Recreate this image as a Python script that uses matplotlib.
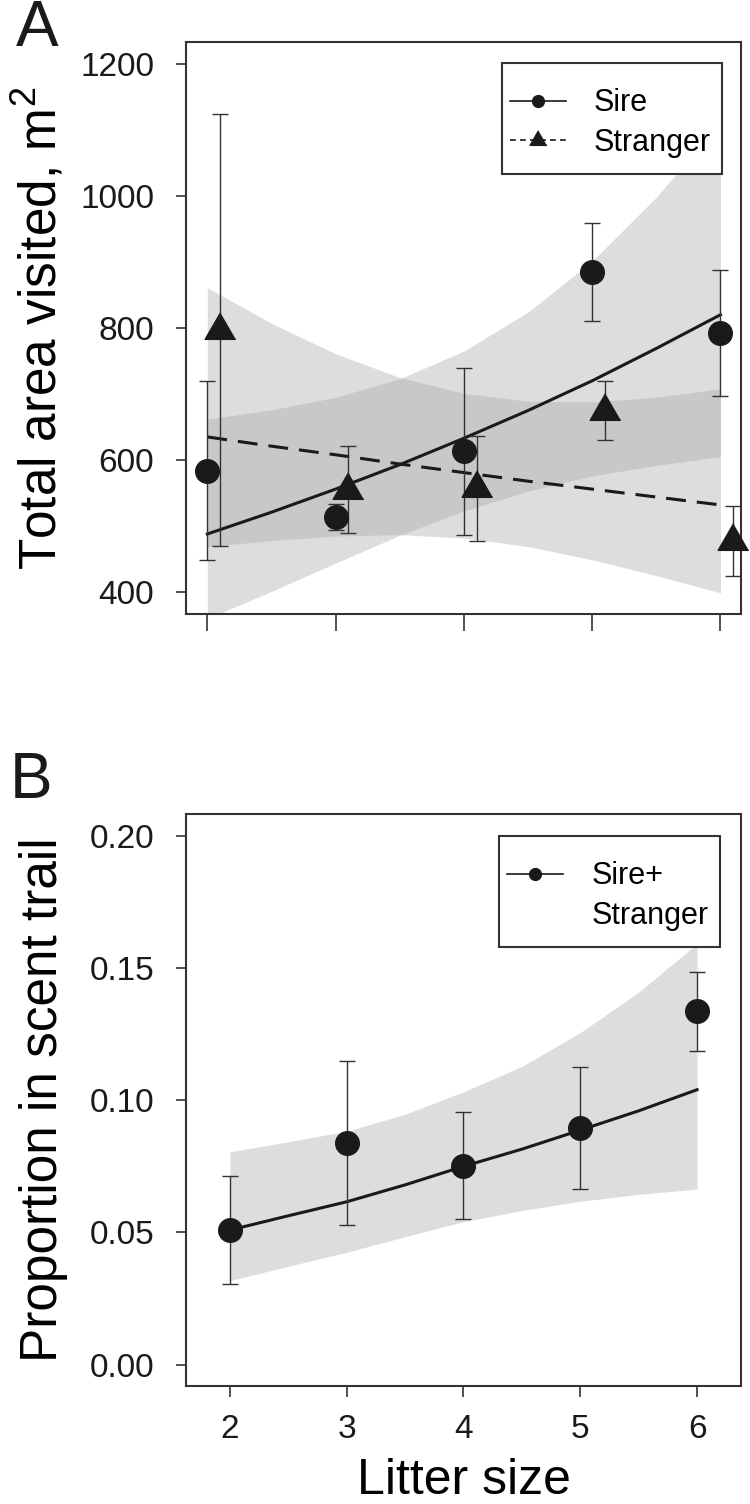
"""Litter size vs. total area visited (A) and proportion in scent trail (B)."""

import matplotlib
matplotlib.use("Agg")
import matplotlib.pyplot as plt
from matplotlib.lines import Line2D
from matplotlib.patches import Rectangle

plt.rcParams["font.family"] = ["Liberation Sans", "DejaVu Sans"]

# ---- data ---------------------------------------------------------------
litter_sizes = [2, 3, 4, 5, 6]

# panel A, means and SE bars
sire_area = [584, 514, 613, 885, 792]
sire_area_se = [135, 20, 127, 74, 95]
stranger_area = [797, 555, 557, 675, 478]
stranger_area_se = [327, 66, 80, 45, 53]

# panel A, model fits with confidence bands
fit_x = [2, 2.5, 3, 3.5, 4, 4.5, 5, 5.5, 6]
sire_fit = [488, 521, 556, 593, 633, 675, 720, 769, 820]
sire_fit_low = [360, 401, 444, 486, 523, 553, 576, 592, 605]
sire_fit_high = [662, 676, 695, 723, 765, 824, 901, 998, 1112]
stranger_fit = [635, 621, 608, 594, 581, 568, 556, 544, 532]
stranger_fit_low = [469, 478, 485, 487, 482, 469, 449, 425, 399]
stranger_fit_high = [861, 807, 761, 725, 701, 689, 688, 695, 708]

# panel B
scent_prop = [0.0509, 0.0840, 0.0752, 0.0895, 0.1337]
scent_prop_se = [0.0205, 0.0310, 0.0203, 0.0230, 0.0150]
scent_fit = [0.0509, 0.0563, 0.0616, 0.0680, 0.0750, 0.0815, 0.0887, 0.0960, 0.1040]
scent_fit_low = [0.0318, 0.0372, 0.0425, 0.0484, 0.0541, 0.0583, 0.0618, 0.0644, 0.0664]
scent_fit_high = [0.0805, 0.0843, 0.0883, 0.0947, 0.1032, 0.1128, 0.1256, 0.1409, 0.1592]

area_ticks = [400, 600, 800, 1000, 1200]
prop_ticks = [0.00, 0.05, 0.10, 0.15, 0.20]

# ---- style ---------------------------------------------------------------
ink = "#1a1a1a"
frame_color = "#333333"
band_color = "#a6a7aa"
band_alpha = 0.38
stranger_offset = 0.1
# equilateral triangle, like R's pch 17
triangle = [(0, 1.1547), (-1, -0.5774), (1, -0.5774)]
dash = (0, (6.5, 3.6))


def _style_axis(axis):
    for spine in axis.spines.values():
        spine.set_linewidth(1.5)
        spine.set_color(frame_color)
    axis.tick_params(colors=frame_color, labelcolor=ink, width=1.2,
                     labelsize=24)
    axis.tick_params(axis="y", length=7, pad=16)


def _boxed_legend(axis, handles, labels, box):
    """Legend without its own frame, centred in a drawn box (axes coords)."""
    x0, y0, x1, y1 = box
    axis.add_patch(Rectangle((x0, y0), x1 - x0, y1 - y0,
                             transform=axis.transAxes, facecolor="white",
                             edgecolor=frame_color, lw=1.5, zorder=5,
                             clip_on=False))
    legend = axis.legend(handles, labels, loc="center",
                         bbox_to_anchor=((x0 + x1) / 2 - 0.003,
                                         (y0 + y1) / 2 - 0.008),
                         borderaxespad=0, borderpad=0, frameon=False,
                         fontsize=22, handlelength=1.83,
                         handletextpad=0.92, labelspacing=0.3)
    legend.set_zorder(6)
    return legend


fig = plt.figure(figsize=(7.5, 15.04), dpi=100)
ax_a = fig.add_axes([0.248, 0.5918, 0.740, 0.3803])
ax_b = fig.add_axes([0.248, 0.0785, 0.740, 0.3803])

# ---- panel A -------------------------------------------------------------
ax_a.fill_between(fit_x, sire_fit_low, sire_fit_high, color=band_color,
                  alpha=band_alpha, lw=0, zorder=1)
ax_a.fill_between(fit_x, stranger_fit_low, stranger_fit_high,
                  color=band_color, alpha=band_alpha, lw=0, zorder=1)
ax_a.plot(fit_x, sire_fit, color=ink, lw=2.2, zorder=2)
ax_a.plot(fit_x, stranger_fit, color=ink, lw=2.2, ls=dash, zorder=2)

stranger_x = [x + stranger_offset for x in litter_sizes]
ax_a.errorbar(litter_sizes, sire_area, yerr=sire_area_se, fmt="none",
              ecolor=frame_color, elinewidth=1.0, capsize=6, capthick=1.0,
              zorder=3)
ax_a.errorbar(stranger_x, stranger_area, yerr=stranger_area_se, fmt="none",
              ecolor=frame_color, elinewidth=1.0, capsize=6, capthick=1.0,
              zorder=3)
ax_a.plot(litter_sizes, sire_area, "o", color=ink, ms=17, zorder=4,
          clip_on=False)
ax_a.plot(stranger_x, stranger_area, ls="none", marker=triangle, color=ink,
          ms=25.5, zorder=4, clip_on=False)

ax_a.set_xlim(1.834, 6.16)
ax_a.set_ylim(367, 1233)
ax_a.set_xticks(litter_sizes)
ax_a.set_xticklabels([])
ax_a.set_yticks(area_ticks)
_style_axis(ax_a)
ax_a.tick_params(axis="x", length=12)
ax_a.set_ylabel("Total area visited, $\\mathregular{m^2}$", fontsize=37)
ax_a.yaxis.set_label_coords(-0.2135, 0.5)

_boxed_legend(
    ax_a,
    [Line2D([], [], color=ink, lw=1.2, marker="o", ms=8.5),
     Line2D([], [], color=ink, lw=1.2, ls=(0, (3.5, 2.5)), marker=triangle,
            ms=14)],
    ["Sire", "Stranger"],
    (0.5694, 0.7692, 0.9658, 0.9633))

# ---- panel B -------------------------------------------------------------
ax_b.fill_between(fit_x, scent_fit_low, scent_fit_high, color=band_color,
                  alpha=band_alpha, lw=0, zorder=1)
ax_b.plot(fit_x, scent_fit, color=ink, lw=2.2, zorder=2)
ax_b.errorbar(litter_sizes, scent_prop, yerr=scent_prop_se, fmt="none",
              ecolor=frame_color, elinewidth=1.0, capsize=6, capthick=1.0,
              zorder=3)
ax_b.plot(litter_sizes, scent_prop, "o", color=ink, ms=17, zorder=4,
          clip_on=False)

ax_b.set_xlim(1.624, 6.376)
ax_b.set_ylim(-0.00806, 0.2083)
ax_b.set_xticks(litter_sizes)
ax_b.set_yticks(prop_ticks)
ax_b.set_yticklabels([f"{v:.2f}" for v in prop_ticks])
_style_axis(ax_b)
ax_b.tick_params(axis="x", length=8, pad=12)
ax_b.set_ylabel("Proportion in scent trail", fontsize=37)
ax_b.yaxis.set_label_coords(-0.2135, 0.5)
ax_b.set_xlabel("Litter size", fontsize=36)
ax_b.xaxis.set_label_coords(0.5, -0.126)

_boxed_legend(
    ax_b,
    [Line2D([], [], color=ink, lw=1.2, marker="o", ms=8.5),
     Line2D([], [], color="none")],
    ["Sire+", "Stranger"],
    (0.564, 0.7675, 0.962, 0.9615))

# panel letters
fig.text(0.0213, 0.9694, "A", fontsize=46, color=ink, va="baseline")
fig.text(0.013, 0.4694, "B", fontsize=46, color=ink, va="baseline")

fig.savefig("out.png", dpi=100)
plt.close(fig)
